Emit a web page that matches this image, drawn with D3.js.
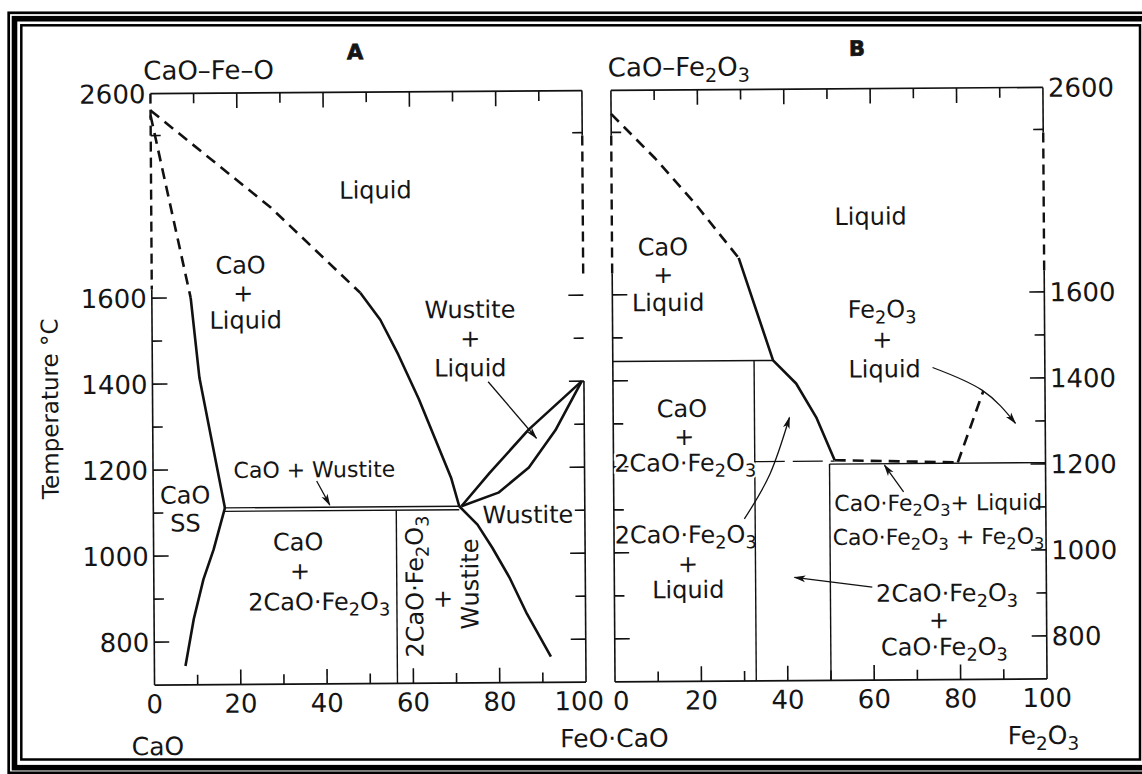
<!DOCTYPE html>
<html>
<head>
<meta charset="utf-8">
<script src="https://cdn.jsdelivr.net/npm/d3@7"></script>
<style>
body { margin: 0; background: #fff; }
svg { display: block; }
text { font-family: "DejaVu Sans", sans-serif; fill: #151515; }
</style>
</head>
<body>
<div id="chart"></div>
<script>
// axis ticks
const tempLabels = [800, 1000, 1200, 1400, 1600];
const tempMinor = [900, 1100, 1300, 1500, 2500];
const compLabels = [0, 20, 40, 60, 80, 100];
const compMinor = [10, 30, 50, 70, 90];

// panel A : CaO-Fe-O   [wt %, °C]
const aLiquidusDash = [[0, 2560], [27.7, 2013], [48.3, 1609]];
const aLiquidus = [[48.3, 1609], [52.9, 1546], [57.0, 1465], [61.7, 1361], [66.3, 1246], [69.1, 1176], [70.9, 1111]];
const aCaoSolidusDash = [[0, 2548], [9, 1600]];
const aCaoSolidus = [[9, 1600], [10.9, 1414], [16.6, 1111]];
const aCaoSolvus = [[16.6, 1111], [13.9, 1014], [11.5, 945], [9.2, 853], [7.2, 744]];
const aWustSolvus = [[70.9, 1111], [75.1, 1068], [78.5, 1014], [82.4, 945], [86.4, 860], [91.9, 760]];
const aWustLiquidus = [[71.4, 1111], [78.0, 1188], [87.1, 1288], [99.5, 1400]];
const aWustSolidus = [[71.4, 1111], [80.0, 1142], [87.1, 1200], [93.3, 1286], [99.5, 1400]];
const aEutectoidTop = [[16.6, 1111], [70.9, 1111]];
const aEutectoidBot = [[16.4, 1103], [70.9, 1103]];
const aC2F = [[56.3, 1103], [56.3, 700]];
const aArrows = [
    [[77.8, 1400], [88.9, 1268]],
    [[37.9, 1172], [40.9, 1116]]
];

// panel B : CaO-Fe2O3   [wt %, °C]
const bLiquidusDash = [[0, 2544], [10.1, 2325], [19.4, 2016], [29.3, 1684]];
const bLiquidus = [[29.3, 1684], [37.1, 1445], [42.4, 1391], [47.0, 1312], [51.2, 1212]];
const bPeritectic = [[0, 1445], [37.1, 1445]];
const bC2F = [[32.7, 1445], [32.7, 700]];
const bCF = [[50, 1203], [50, 700]];
const bThin = [[32.7, 1210], [51.2, 1210]];
const bEutecticDash = [[51.2, 1212], [79.7, 1205]];
const bSolidus = [[50, 1203], [100, 1203]];
const bFe2O3Liquidus = [[79.7, 1205], [85.7, 1370]];
const bArrows = [
    [[74.0, 1426], [85.5, 1372], [93.1, 1295]],
    [[30.2, 1077], [36.2, 1181], [40.8, 1312]],
    [[67.1, 1137], [62.7, 1200]],
    [[59.7, 916], [41.7, 940]]
];

// region names  [wt %, °C, text]  ("_2" = subscript)
const aLabels = [
    [52.0, 2127, "Liquid"],
    [20.6, 1676, "CaO"], [21.2, 1611, "+"], [21.7, 1548, "Liquid"],
    [73.7, 1569, "Wustite"], [73.7, 1502, "+"], [73.7, 1433, "Liquid"],
    [37.4, 1199, "CaO + Wustite"],
    [7.4, 1142, "CaO"], [7.4, 1077, "SS"],
    [33.5, 1031, "CaO"], [33.9, 964, "+"], [38.3, 892, "2CaO·Fe_2O_3"],
    [86.8, 1091, "Wustite"],
    [67.0, 898, "+"]
];
const aVertLabels = [
    [60.4, 925, "2CaO·Fe_2O_3"],
    [73.2, 930, "Wustite"]
];
const bLabels = [
    [59.9, 1928, "Liquid"],
    [11.8, 1732, "CaO"], [11.8, 1647, "+"], [12.9, 1582, "Liquid"],
    [62.4, 1563, "Fe_2O_3"], [62.4, 1493, "+"], [62.9, 1424, "Liquid"],
    [15.9, 1335, "CaO"], [16.4, 1270, "+"], [16.6, 1209, "2CaO·Fe_2O_3"],
    [16.6, 1042, "2CaO·Fe_2O_3"], [17.1, 974, "+"], [17.1, 914, "Liquid"],
    [75.1, 1112, "CaO·Fe_2O_3+ Liquid"],
    [75.1, 1033, "CaO·Fe_2O_3 + Fe_2O_3"],
    [77.0, 902, "2CaO·Fe_2O_3"], [75.1, 840, "+"], [76.3, 777, "CaO·Fe_2O_3"]
];


const W = 1142, H = 774;
const xA = d3.scaleLinear().domain([0, 100]).range([152.5, 584]);
const xB = d3.scaleLinear().domain([0, 100]).range([613, 1045]);
// temperature axis is broken above 1700
const yT = d3.scaleLinear().domain([700, 1700, 2500, 2600]).range([682, 252, 132.5, 90.5]);

const svg = d3.select("#chart").append("svg")
    .attr("width", W)
    .attr("height", H);

// triple frame
svg.append("rect").attr("x", 8.7).attr("y", 12.8).attr("width", 1160).attr("height", 760)
    .attr("fill", "none").attr("stroke", "#000").attr("stroke-width", 2.7);
svg.append("rect").attr("x", 14.5).attr("y", 18.7).attr("width", 1160).attr("height", 749)
    .attr("fill", "none").attr("stroke", "#000").attr("stroke-width", 5.6);
svg.append("rect").attr("x", 21.3).attr("y", 25.3).attr("width", 1118.7).attr("height", 734.2)
    .attr("fill", "none").attr("stroke", "#000").attr("stroke-width", 2.5);

svg.append("defs").append("marker")
    .attr("id", "arrow")
    .attr("viewBox", "0 0 12 8")
    .attr("refX", 11).attr("refY", 4)
    .attr("markerWidth", 13).attr("markerHeight", 8)
    .attr("markerUnits", "userSpaceOnUse")
    .attr("orient", "auto")
    .append("path")
    .attr("d", "M0,0.6 L12,4 L0,7.4 L3,4 z")
    .attr("fill", "#111");

// scanned page is slightly rotated
const plot = svg.append("g").attr("transform", "rotate(-0.4, 600, 390)");

function addText(g, x, y, str, size, anchor, weight) {
    const t = g.append("text")
        .attr("x", x).attr("y", y)
        .attr("font-size", size)
        .attr("text-anchor", anchor || "middle");
    if (weight) t.attr("font-weight", weight);
    const shift = size * 0.24;
    let low = false;
    str.split(/(_\d)/).forEach(p => {
        if (!p) return;
        const ts = t.append("tspan");
        if (p[0] === "_") {
            ts.attr("font-size", size * 0.74).attr("dy", low ? 0 : shift).text(p[1]);
            low = true;
        } else {
            if (low) ts.attr("dy", -shift);
            ts.text(p);
            low = false;
        }
    });
    return t;
}

function drawCurve(g, x, pts, style) {
    const gen = d3.line().x(d => x(d[0])).y(d => yT(d[1]));
    const p = g.append("path")
        .attr("d", gen(pts))
        .attr("fill", "none")
        .attr("stroke", "#111")
        .attr("stroke-linejoin", "round");
    if (style === "thick") p.attr("stroke-width", 2.6);
    if (style === "dash") p.attr("stroke-width", 2.6).attr("stroke-dasharray", "11,7");
    if (style === "thin") p.attr("stroke-width", 1.4);
    if (style === "thinDash") p.attr("stroke-width", 1.3).attr("stroke-dasharray", "30,8");
    return p;
}

function drawArrow(g, x, pts) {
    const gen = d3.line().x(d => x(d[0])).y(d => yT(d[1])).curve(d3.curveNatural);
    g.append("path")
        .attr("d", gen(pts))
        .attr("fill", "none")
        .attr("stroke", "#111")
        .attr("stroke-width", 1.3)
        .attr("marker-end", "url(#arrow)");
}

function vAxis(g, x, v, segs, tickDir) {
    segs.forEach(s => {
        const l = g.append("line")
            .attr("x1", x(v)).attr("x2", x(v))
            .attr("y1", yT(s[0])).attr("y2", yT(s[1]))
            .attr("stroke", "#111").attr("stroke-width", s[2] ? 2.4 : 1.6);
        if (s[2]) l.attr("stroke-dasharray", "10,6");
    });
    tempLabels.forEach(t => g.append("line")
        .attr("x1", x(v)).attr("x2", x(v) + tickDir * 15)
        .attr("y1", yT(t)).attr("y2", yT(t))
        .attr("stroke", "#111").attr("stroke-width", 1.6));
    tempMinor.forEach(t => g.append("line")
        .attr("x1", x(v)).attr("x2", x(v) + tickDir * 10)
        .attr("y1", yT(t)).attr("y2", yT(t))
        .attr("stroke", "#111").attr("stroke-width", 1.6));
}

function hAxes(g, x, labelShift) {
    [2600, 700].forEach(t => {
        const dir = t === 2600 ? 1 : -1;
        g.append("line")
            .attr("x1", x(0)).attr("x2", x(100))
            .attr("y1", yT(t)).attr("y2", yT(t))
            .attr("stroke", "#111").attr("stroke-width", 1.6);
        compLabels.slice(1, -1).forEach(c => g.append("line")
            .attr("x1", x(c)).attr("x2", x(c))
            .attr("y1", yT(t)).attr("y2", yT(t) + dir * 15)
            .attr("stroke", "#111").attr("stroke-width", 1.6));
        compMinor.forEach(c => g.append("line")
            .attr("x1", x(c)).attr("x2", x(c))
            .attr("y1", yT(t)).attr("y2", yT(t) + dir * 10)
            .attr("stroke", "#111").attr("stroke-width", 1.6));
    });
    compLabels.forEach(c => addText(g, x(c) + (labelShift[c] || 0), yT(700) + 28, String(c), 26));
}

// ---------- panel A ----------
const gA = plot.append("g");
hAxes(gA, xA, {100: -7});
vAxis(gA, xA, 0, [[2600, 1620, true], [1620, 700, false]], 1);
vAxis(gA, xA, 100, [[2600, 2480, false], [2480, 1650, true], [1400, 700, false]], -1);

drawCurve(gA, xA, aLiquidusDash, "dash");
drawCurve(gA, xA, aLiquidus, "thick");
drawCurve(gA, xA, aCaoSolidusDash, "dash");
drawCurve(gA, xA, aCaoSolidus, "thick");
drawCurve(gA, xA, aCaoSolvus, "thick");
drawCurve(gA, xA, aWustSolvus, "thick");
drawCurve(gA, xA, aWustLiquidus, "thick");
drawCurve(gA, xA, aWustSolidus, "thick");
drawCurve(gA, xA, aEutectoidTop, "thin");
drawCurve(gA, xA, aEutectoidBot, "thin");
drawCurve(gA, xA, aC2F, "thin");
aArrows.forEach(a => drawArrow(gA, xA, a));

aLabels.forEach(d => {
    const size = d[2] === "CaO + Wustite" ? 22 : 24;
    addText(gA, xA(d[0]), yT(d[1]) + size * 0.36, d[2], size);
});
aVertLabels.forEach(d => {
    addText(gA, xA(d[0]), yT(d[1]) + 8.6, d[2], 24)
        .attr("transform", `rotate(-90, ${xA(d[0])}, ${yT(d[1])})`);
});

tempLabels.concat([2600]).forEach(t =>
    addText(gA, xA(0) - 5, yT(t) + 9.5, String(t), 26, "end"));
addText(gA, 50, 413, "Temperature °C", 23)
    .attr("transform", "rotate(-90, 50, 405)");
addText(gA, xA(0) - 7, yT(2600) - 14, "CaO–Fe–O", 26, "start");
addText(gA, xA(47.5), yT(2600) - 33, "A", 21, "middle", "900")
    .attr("stroke", "#151515").attr("stroke-width", 0.8);
addText(gA, xA(0) + 3, yT(700) + 70, "CaO", 25);
addText(gA, xA(100) + 28, yT(700) + 65, "FeO·CaO", 25);

// ---------- panel B ----------
const gB = plot.append("g");
hAxes(gB, xB, {0: 6});
vAxis(gB, xB, 0, [[2600, 2480, false], [2480, 1650, true], [1650, 700, false]], 1);
vAxis(gB, xB, 100, [[2600, 2480, false], [2480, 1650, true], [1650, 700, false]], -1);

drawCurve(gB, xB, bLiquidusDash, "dash");
drawCurve(gB, xB, bLiquidus, "thick");
drawCurve(gB, xB, bPeritectic, "thin");
drawCurve(gB, xB, bC2F, "thin");
drawCurve(gB, xB, bCF, "thin");
drawCurve(gB, xB, bThin, "thinDash");
drawCurve(gB, xB, bEutecticDash, "dash");
drawCurve(gB, xB, bSolidus, "thin");
drawCurve(gB, xB, bFe2O3Liquidus, "dash");
bArrows.forEach(a => drawArrow(gB, xB, a));

bLabels.forEach(d => {
    const size = d[2].indexOf(" + ") > 0 || d[2].indexOf("+ ") > 0 ? 22 : 24;
    const t = addText(gB, xB(d[0]), yT(d[1]) + size * 0.36, d[2], size);
    // label sitting on the 1200 line gets a white backing
    if (d[1] === 1209) t.style("paint-order", "stroke").attr("stroke", "#fff").attr("stroke-width", 4);
});

tempLabels.concat([2600]).forEach(t =>
    addText(gB, xB(100) + 5, yT(t) + 9.5, String(t), 26, "start"));
addText(gB, xB(0) - 3, yT(2600) - 14, "CaO–Fe_2O_3", 26, "start");
addText(gB, xB(57), yT(2600) - 33, "B", 21, "middle", "900")
    .attr("stroke", "#151515").attr("stroke-width", 0.8);
addText(gB, xB(100) - 4, yT(700) + 65, "Fe_2O_3", 25);
</script>
</body>
</html>
